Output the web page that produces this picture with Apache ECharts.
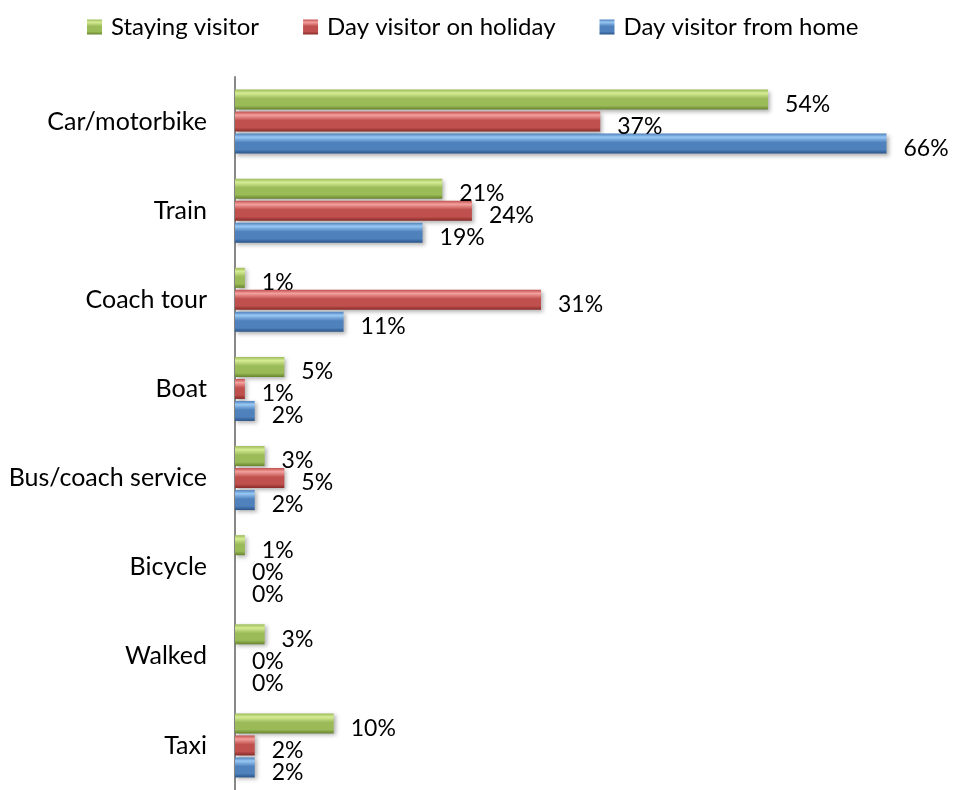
<!DOCTYPE html>
<html>
<head>
<meta charset="utf-8">
<title>Mode of transport by visitor type</title>
<script src="https://cdn.jsdelivr.net/npm/echarts@6/dist/echarts.min.js"></script>
<style>
  html, body { margin: 0; padding: 0; background: #ffffff; }
  #chart { width: 954px; height: 790px; }
</style>
</head>
<body>
<div id="chart"></div>
<script>
// Categories, top to bottom
const categories = ['Car/motorbike', 'Train', 'Coach tour', 'Boat', 'Bus/coach service', 'Bicycle', 'Walked', 'Taxi'];

// Share of respondents (%) by visitor type
const stayingVisitor = [54, 21, 1, 5, 3, 1, 3, 10];
const dayVisitorHoliday = [37, 24, 31, 1, 5, 0, 0, 2];
const dayVisitorHome = [66, 19, 11, 2, 2, 0, 0, 2];

const seriesNames = ['Staying visitor', 'Day visitor on holiday', 'Day visitor from home'];

const FONT = 'Lato, "Open Sans", sans-serif';

// Rounded "cylinder" look: light rim at top, dark edge at bottom
function tube(light, mid, dark) {
  return new echarts.graphic.LinearGradient(0, 0, 0, 1, [
    { offset: 0, color: mid },
    { offset: 0.18, color: light },
    { offset: 0.45, color: mid },
    { offset: 0.8, color: mid },
    { offset: 1, color: dark }
  ]);
}

const palettes = [
  tube('#d6ec94', '#9bbb59', '#66842c'),
  tube('#f4a09e', '#c0504d', '#862a28'),
  tube('#98c8f4', '#4f81bd', '#295488')
];

function makeSeries(name, data, idx) {
  return {
    name: name,
    type: 'bar',
    data: data,
    barWidth: 20,
    barGap: '10%',
    itemStyle: {
      color: palettes[idx],
      shadowColor: 'rgba(0,0,0,0.30)',
      shadowBlur: 4,
      shadowOffsetX: 2,
      shadowOffsetY: 2
    },
    label: {
      show: true,
      position: 'right',
      distance: 17,
      offset: [0, 5],
      formatter: '{c}%',
      color: '#000',
      fontFamily: FONT,
      fontSize: 23
    }
  };
}

const chart = echarts.init(document.getElementById('chart'), null, { renderer: 'canvas' });

chart.setOption({
  animation: false,
  backgroundColor: '#ffffff',
  legend: {
    top: 10,
    left: 82,
    itemWidth: 15,
    itemHeight: 15,
    itemGap: 44,
    icon: 'rect',
    textStyle: { color: '#000', fontFamily: FONT, fontSize: 24, padding: [0, 0, 0, 4] },
    data: seriesNames
  },
  grid: {
    left: 235,
    top: 77,
    width: 691,
    height: 720,
    containLabel: false
  },
  xAxis: {
    type: 'value',
    min: 0,
    max: 70,
    show: false
  },
  yAxis: {
    type: 'category',
    data: categories,
    inverse: true,
    axisLine: { show: true, lineStyle: { color: '#888888', width: 2 } },
    axisTick: { show: false },
    axisLabel: {
      color: '#000',
      fontFamily: FONT,
      fontSize: 25,
      margin: 28,
      padding: [5, 0, 0, 0]
    },
    splitLine: { show: false }
  },
  series: [
    makeSeries(seriesNames[0], stayingVisitor, 0),
    makeSeries(seriesNames[1], dayVisitorHoliday, 1),
    makeSeries(seriesNames[2], dayVisitorHome, 2)
  ]
});
</script>
</body>
</html>
